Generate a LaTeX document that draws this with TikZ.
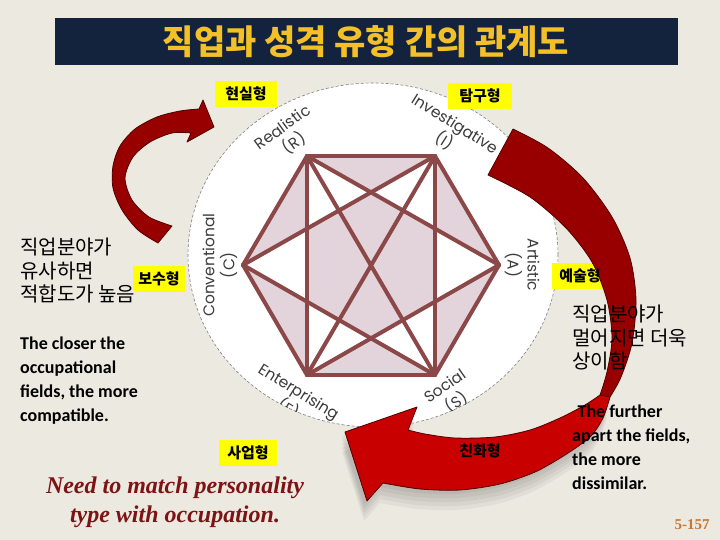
\documentclass[tikz,border=0pt]{standalone}
\usepackage{fontspec}
\setmainfont{Liberation Serif}
\newfontfamily\hangul{Noto Sans CJK KR}
\newfontfamily\gothic{Poppins}
\newfontfamily\calib{Carlito}
\usepackage{tikz}
\usetikzlibrary{arrows, positioning, backgrounds, calc}

\definecolor{slide}{RGB}{236,233,225}
\definecolor{navy}{RGB}{19,35,62}
\definecolor{titlegold}{RGB}{243,192,40}
\definecolor{hexred}{RGB}{140,72,72}
\definecolor{hexfill}{RGB}{226,212,218}
\definecolor{labelgray}{RGB}{60,60,60}
\definecolor{boxyellow}{RGB}{255,255,0}
\definecolor{darkribbon}{RGB}{152,0,0}
\definecolor{redribbon}{RGB}{200,0,0}
\definecolor{ribbonline}{RGB}{80,0,0}
\definecolor{quotered}{RGB}{125,20,20}
\definecolor{pagebrown}{RGB}{196,118,50}

\pgfdeclarelayer{boxes}
\pgfdeclarelayer{ribbon}
\pgfsetlayers{background,boxes,ribbon,main}

\tikzstyle{typebox} = [font=\hangul\bfseries\fontsize{15}{16}\selectfont, inner sep=0pt, minimum height=26pt]
\tikzstyle{hexlabel} = [font=\gothic\fontsize{15.5}{20}\selectfont, text=labelgray, align=center, inner sep=0pt]
\tikzstyle{hexline} = [draw=hexred, line width=4pt, line join=round, line cap=round]
\tikzstyle{ribbonedge} = [draw=ribbonline, line width=0.8pt, line join=round]
\tikzstyle{note} = [align=left, inner sep=0pt, anchor=west]

\begin{document}
\begin{tikzpicture}[x=1pt, y=-1pt]

\useasboundingbox (0,0) rectangle (720,540);

\begin{pgfonlayer}{background}
\fill [slide] (0,0) rectangle (720,540);

% Title bar
\fill [navy] (55,18) rectangle (678,65);

% Wheel
\draw [gray, line width=0.6pt, densely dashed, fill=white] (373,255) ellipse [x radius=185pt, y radius=172pt];

% Hexagon
\coordinate (R) at (307,156);
\coordinate (I) at (435,156);
\coordinate (A) at (499,265);
\coordinate (S) at (435,375);
\coordinate (E) at (307,375);
\coordinate (C) at (243,265);

\fill [hexfill] (R) -- (I) -- (A) -- (S) -- (E) -- (C) -- cycle;
\fill [white, even odd rule] (R) -- (A) -- (E) -- cycle (I) -- (S) -- (C) -- cycle;
\foreach \p/\q in {R/I, I/A, A/S, S/E, E/C, C/R, R/A, R/S, R/E, I/S, I/E, I/C, A/E, S/C}
  \draw [hexline] (\p) -- (\q);

% Type names round the wheel
\begin{scope}
\clip (373,255) ellipse [x radius=185pt, y radius=172pt];
\node [hexlabel, rotate=36] (realistic) at (289,136) {Realistic\\(R)};
\node [hexlabel, rotate=-32] (investigative) at (449,133) {Investigative\\(I)};
\node [hexlabel, rotate=-90] (artistic) at (522,265) {Artistic\\(A)};
\node [hexlabel, rotate=35] (social) at (451,395) {Social\\(S)};
\node [hexlabel, rotate=-32] (enterprising) at (293,401) {Enterprising\\(E)};
\node [hexlabel, rotate=90] (conventional) at (220,265) {Conventional\\(C)};
\end{scope}
\end{pgfonlayer}

% Title
\node [font=\hangul\bfseries\fontsize{34}{36}\selectfont, text=titlegold] (title) at (366,42) {직업과 성격 유형 간의 관계도};

% Korean type names
\node [typebox, minimum width=62pt] (real) at (246,94) {현실형};
\node [typebox, minimum width=64pt] (inv) at (480,96) {탐구형};
\node [typebox, minimum width=52pt] (conv) at (159,279) {보수형};
\node [typebox, minimum width=56pt] (art) at (580,276) {예술형};
\node [typebox, minimum width=58pt] (ent) at (248,453) {사업형};
\node [typebox, minimum width=62pt] (soc) at (480,451) {친화형};

\begin{pgfonlayer}{boxes}
\foreach \n in {real, inv, conv, art, ent, soc}
  \fill [boxyellow] (\n.south west) rectangle (\n.north east);
\end{pgfonlayer}

% Notes
\node [note, font=\hangul\fontsize{20}{23.5}\selectfont] (near) at (20,271) {직업분야가\\유사하면\\적합도가 높음};
\node [note, font=\calib\bfseries\fontsize{18}{24}\selectfont] (closer) at (20,381) {The closer the\\occupational\\fields, the more\\compatible.};
\node [note, font=\hangul\fontsize{20}{23.5}\selectfont] (far) at (572,338) {직업분야가\\멀어지면 더욱\\상이함};
\node [note, font=\calib\bfseries\fontsize{18}{24}\selectfont] (further) at (572,447) {\hspace{0.3em}The further\\apart the fields,\\the more\\dissimilar.};
\node [font=\bfseries\itshape\fontsize{24}{29}\selectfont, text=quotered, align=center] (match) at (175,502) {Need to match personality\\type with occupation.};
\node [font=\bfseries\fontsize{15}{17}\selectfont, text=pagebrown] (page) at (692,525) {5-157};

% Arrows
\begin{pgfonlayer}{ribbon}
\filldraw [ribbonedge, fill=darkribbon]
  plot [smooth] coordinates {(158,243) (138,230) (122,210) (113,188) (113,166) (120,146) (135,129) (157,117) (180,111) (199,109)}
  -- (203,100) -- (214,127) -- (187,142) -- (191,133)
  -- plot [smooth] coordinates {(191,133) (172,133) (150,142) (133,157) (125,178) (132,200) (149,217) (172,226)}
  -- cycle;

\filldraw [ribbonedge, fill=darkribbon]
  plot [smooth] coordinates {(513,129) (548,148) (583,178) (612,217) (630,258) (636,300) (632,343) (621,377) (610,397)}
  -- plot [smooth] coordinates {(600,395) (607,372) (612,338) (607,300) (592,262) (566,228) (530,197) (488,175)}
  -- cycle;

% soft shadow under the lower band
\foreach \s in {4,8,12,16,20}
  \fill [black, opacity=0.045, shift={(-3,\s)}]
    plot [smooth] coordinates {(600,395) (585,405) (560,418) (530,430) (495,437) (455,438) (425,434) (408,430)}
    -- (417,407) -- (345,432) -- (367,501) -- (383,483)
    -- plot [smooth] coordinates {(383,483) (420,489) (460,490) (500,484) (535,472) (565,455) (590,437) (603,418) (610,397)}
    -- cycle;

\filldraw [ribbonedge, fill=redribbon]
  plot [smooth] coordinates {(600,395) (585,405) (560,418) (530,430) (495,437) (455,438) (425,434) (408,430)}
  -- (417,407) -- (345,432) -- (367,501) -- (383,483)
  -- plot [smooth] coordinates {(383,483) (420,489) (460,490) (500,484) (535,472) (565,455) (590,437) (603,418) (610,397)}
  -- cycle;
\end{pgfonlayer}

\end{tikzpicture}
\end{document}
